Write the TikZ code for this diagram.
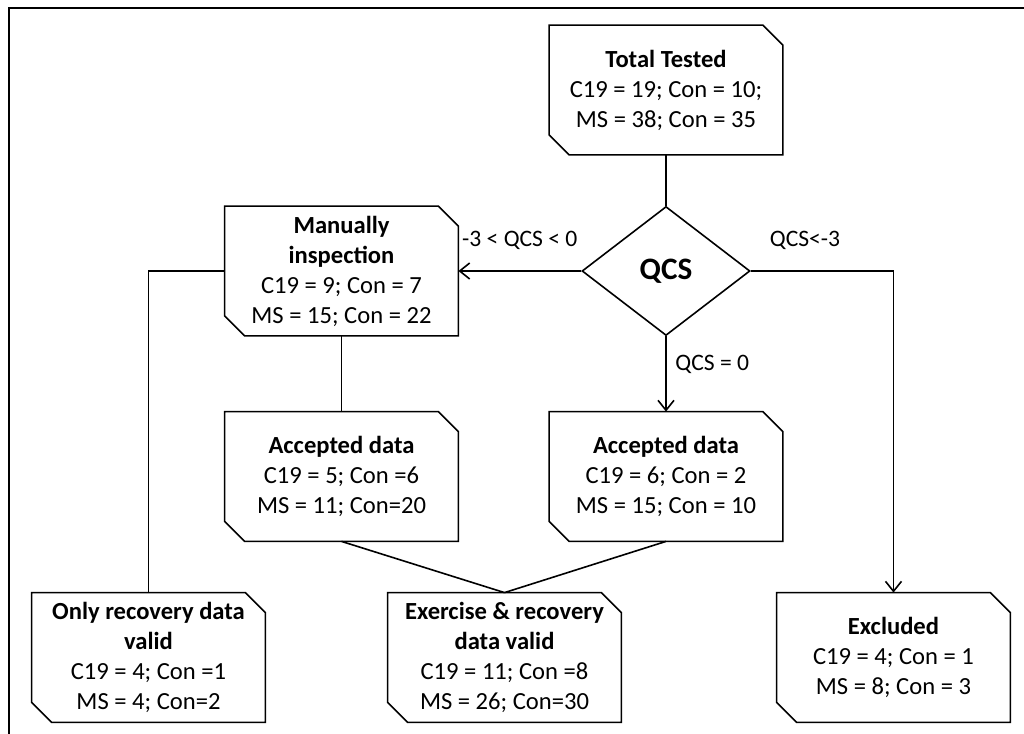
\documentclass[tikz,border=0pt]{standalone}
\usepackage{fontspec}
\setmainfont{Carlito}
\usetikzlibrary{positioning,shapes.geometric,arrows.meta}

\begin{document}
\begin{tikzpicture}[
		x=0.5pt, y=-0.5pt,
		snipbox/.style={rectangle, minimum width=116.5pt, minimum height=64.5pt,
			inner sep=0pt, align=center, font=\fontsize{12.3}{15}\selectfont,
			append after command={\pgfextra{
				\draw[thick] (\tikzlastnode.north west) -- ([xshift=-10pt]\tikzlastnode.north east)
					-- ([yshift=-10pt]\tikzlastnode.north east) -- (\tikzlastnode.south east)
					-- ([xshift=10pt]\tikzlastnode.south west) -- ([yshift=10pt]\tikzlastnode.south west) -- cycle;
			}}},
		decision/.style={diamond, draw=black, thick, minimum width=84pt, minimum height=64.5pt,
			inner sep=0pt, font=\fontsize{15.6}{17}\selectfont\bfseries},
		line/.style={draw=black, thick},
		arrow/.style={line, -{Straight Barb[length=5pt,width=8pt]}},
		edgelabel/.style={font=\fontsize{11.8}{13}\selectfont},
	]
	
	\useasboundingbox (0,0) rectangle (1024,734);
	\draw[line width=1pt] (9,734) -- (9,8) -- (1024,8);
	
	%Nodes
	\node[snipbox]	(total)	at (666,90)		{\textbf{Total Tested}\\C19 = 19; Con = 10;\\MS = 38; Con = 35};
	\node[decision]	(qcs)	at (666,271)	{QCS};
	\node[snipbox]	(manual)	at (341.5,271)	{\textbf{Manually}\\\textbf{inspection}\\C19 = 9; Con = 7\\MS = 15; Con = 22};
	\node[snipbox]	(accl)	at (341.5,476.5)	{\textbf{Accepted data}\\C19 = 5; Con =6\\MS = 11; Con=20};
	\node[snipbox]	(accr)	at (666,476.5)	{\textbf{Accepted data}\\C19 = 6; Con = 2\\MS = 15; Con = 10};
	\node[snipbox]	(recov)	at (148.5,657.5)	{\textbf{Only recovery data}\\\textbf{valid}\\C19 = 4; Con =1\\MS = 4; Con=2};
	\node[snipbox]	(exrec)	at (504.5,657.5)	{\textbf{Exercise \& recovery}\\\textbf{data valid}\\C19 = 11; Con =8\\MS = 26; Con=30};
	\node[snipbox]	(excl)	at (893.5,657.5)	{\textbf{Excluded}\\C19 = 4; Con = 1\\MS = 8; Con = 3};
	
	%Lines
	\draw[line]	(total.south) -- (qcs.north);
	\draw[arrow]	(qcs.west) -- node[edgelabel, above=7pt] {-3 < QCS < 0} (manual.east);
	\draw[arrow]	(qcs.east) -| node[edgelabel, pos=0.19, above=7pt] {QCS<-3} (excl.north);
	\draw[arrow]	(qcs.south) -- node[edgelabel, pos=0.37, right=1pt] {QCS = 0} (accr.north);
	\draw[line]	(manual.south) -- (accl.north);
	\draw[line]	(manual.west) -| (recov.north);
	\draw[line]	(accl.south) -- (exrec.north);
	\draw[line]	(accr.south) -- (exrec.north);
	
\end{tikzpicture}
\end{document}
